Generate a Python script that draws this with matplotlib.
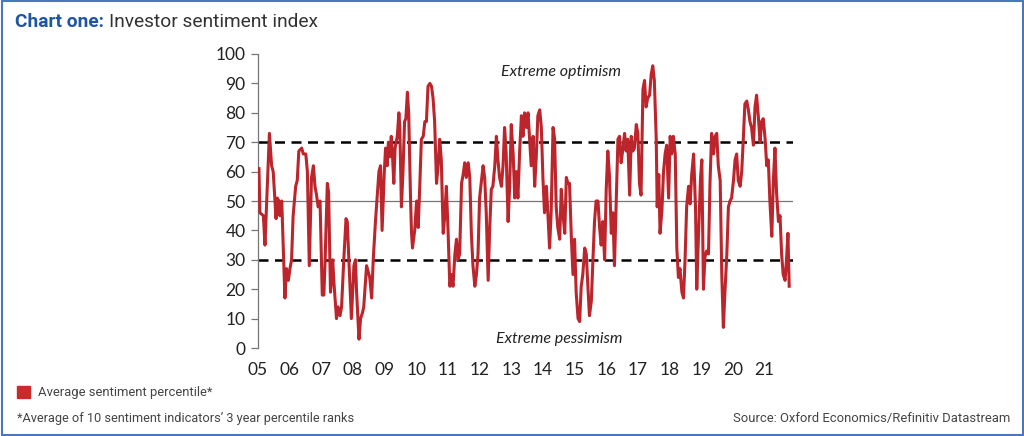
import matplotlib
matplotlib.use("Agg")
import matplotlib.pyplot as plt
from matplotlib.patches import Rectangle

# values (year fraction, percentile)
years = [
    2005.03, 2005.06, 2005.17, 2005.22, 2005.36, 2005.43, 2005.48, 2005.57, 2005.61, 2005.66,
    2005.69, 2005.75, 2005.78, 2005.85, 2005.90, 2005.96, 2006.01, 2006.06, 2006.11, 2006.19,
    2006.24, 2006.29, 2006.38, 2006.43, 2006.51, 2006.56, 2006.62, 2006.69, 2006.75, 2006.80,
    2006.85, 2006.90, 2006.96, 2007.03, 2007.08, 2007.12, 2007.19, 2007.23, 2007.29, 2007.36,
    2007.40, 2007.48, 2007.53, 2007.59, 2007.64, 2007.71, 2007.78, 2007.82, 2007.87, 2007.92,
    2007.95, 2008.03, 2008.08, 2008.11, 2008.19, 2008.24, 2008.30, 2008.34, 2008.43, 2008.48,
    2008.53, 2008.59, 2008.64, 2008.71, 2008.77, 2008.82, 2008.87, 2008.92, 2008.99, 2009.03,
    2009.08, 2009.12, 2009.16, 2009.21, 2009.25, 2009.29, 2009.33, 2009.40, 2009.45, 2009.48,
    2009.53, 2009.58, 2009.63, 2009.67, 2009.72, 2009.76, 2009.82,
    2009.85, 2009.88, 2009.95, 2010.01, 2010.06, 2010.11, 2010.16, 2010.22, 2010.27, 2010.32,
    2010.37, 2010.43, 2010.48, 2010.53, 2010.58, 2010.64, 2010.69, 2010.74, 2010.79, 2010.85,
    2010.90, 2010.95, 2011.00, 2011.06, 2011.11, 2011.16, 2011.22, 2011.27, 2011.32, 2011.37,
    2011.43, 2011.48, 2011.53, 2011.58, 2011.64, 2011.69, 2011.74, 2011.79, 2011.85, 2011.90,
    2011.95, 2012.00, 2012.06, 2012.11, 2012.16, 2012.21, 2012.27, 2012.32, 2012.37, 2012.42,
    2012.48, 2012.53, 2012.58, 2012.63, 2012.69, 2012.74, 2012.79, 2012.84, 2012.90, 2012.95,
    2013.00, 2013.06, 2013.11, 2013.16, 2013.21, 2013.27, 2013.32, 2013.37, 2013.42, 2013.48,
    2013.53, 2013.58, 2013.63, 2013.69, 2013.74, 2013.79, 2013.84, 2013.90, 2013.95, 2014.00,
    2014.05, 2014.11, 2014.16, 2014.21, 2014.26, 2014.32, 2014.37, 2014.42, 2014.47, 2014.53,
    2014.58, 2014.63, 2014.69, 2014.74, 2014.79, 2014.84, 2014.90, 2014.95, 2015.00, 2015.05,
    2015.11, 2015.16, 2015.21, 2015.26, 2015.32, 2015.37, 2015.42, 2015.47, 2015.53, 2015.58,
    2015.63, 2015.68, 2015.74, 2015.79, 2015.84, 2015.89, 2015.95, 2016.00, 2016.05, 2016.10,
    2016.16, 2016.21, 2016.26, 2016.32,
    2016.37, 2016.42, 2016.47, 2016.53, 2016.58, 2016.63, 2016.68, 2016.74, 2016.79, 2016.84,
    2016.89, 2016.95, 2017.00, 2017.05, 2017.10, 2017.16, 2017.21, 2017.26, 2017.31, 2017.37,
    2017.42, 2017.47, 2017.52, 2017.58, 2017.61, 2017.66, 2017.70, 2017.76, 2017.81, 2017.86,
    2017.91, 2017.97, 2018.02, 2018.07, 2018.12, 2018.18, 2018.23, 2018.28, 2018.33, 2018.39,
    2018.44, 2018.49, 2018.54, 2018.60, 2018.65, 2018.70, 2018.76, 2018.82, 2018.86, 2018.91,
    2018.98, 2019.02, 2019.07, 2019.12, 2019.17, 2019.23, 2019.28, 2019.33, 2019.39, 2019.44,
    2019.49, 2019.54, 2019.60, 2019.65, 2019.70, 2019.75, 2019.81, 2019.86, 2019.91, 2019.96,
    2020.02, 2020.07, 2020.12, 2020.17, 2020.23, 2020.28, 2020.33, 2020.38, 2020.44, 2020.49,
    2020.54, 2020.59, 2020.65, 2020.70, 2020.75, 2020.81, 2020.86, 2020.91, 2020.96, 2021.02,
    2021.07, 2021.12, 2021.17, 2021.23, 2021.28, 2021.33, 2021.38, 2021.44, 2021.49, 2021.54,
    2021.59, 2021.65, 2021.70, 2021.74, 2021.78,
]
sentiment = [
    61, 46, 45, 35, 73, 62, 60, 44, 51, 50,
    45, 50, 40, 17, 27, 23, 27, 30, 45, 55,
    57, 67, 68, 66, 66, 60, 28, 58, 62, 55,
    52, 48, 50, 18, 18, 30, 56, 53, 19, 30,
    22, 10, 14, 11, 14, 30, 44, 43, 30, 18,
    10, 28, 30, 20, 3, 10, 12, 14, 28, 26,
    24, 17, 30, 43, 52, 60, 62, 40, 60, 68,
    62, 70, 65, 72, 65, 56, 68, 72, 80, 75,
    48, 60, 77, 78, 87, 80, 50,
    39, 34, 40, 50, 41, 55, 71, 72, 77, 77,
    89, 90, 89, 85, 77, 56, 62, 71, 64, 39,
    45, 55, 41, 21, 25, 21, 32, 37, 30, 32,
    56, 59, 63, 58, 63, 58, 39, 28, 21, 25,
    32, 51, 57, 62, 58, 46, 23, 41, 54, 55,
    62, 72, 64, 58, 55, 62, 75, 66, 43, 55,
    76, 66, 51, 60, 51, 68, 79, 72, 80, 75,
    80, 71, 62, 72, 55, 65, 79, 81, 75, 58,
    46, 55, 45, 34, 46, 75, 71, 48, 41, 37,
    54, 46, 39, 58, 56, 56, 37, 25, 37, 19,
    10, 9, 21, 25, 34, 32, 21, 11, 16, 30,
    43, 50, 50, 41, 35, 43, 30, 54, 67, 59,
    39, 46, 28, 51,
    71, 72, 63, 68, 73, 67, 71, 52, 72, 67,
    68, 76, 73, 56, 52, 88, 91, 82, 85, 86,
    93, 96, 91, 71, 48, 59, 39, 47, 60, 66,
    69, 51, 72, 66, 72, 66, 34, 24, 27, 19,
    17, 30, 48, 55, 49, 59, 66, 48, 20, 37,
    58, 64, 20, 31, 33, 32, 57, 73, 66, 72,
    73, 62, 57, 25, 7, 19, 32, 48, 50, 51,
    57, 64, 66, 57, 55, 60, 71, 83, 84, 81,
    77, 75, 69, 82, 86, 78, 70, 77, 78, 71,
    62, 64, 50, 38, 57, 68, 53, 43, 45, 32,
    25, 23, 31, 39, 21,
]
tick_years = list(range(2005, 2022))
tick_labels = ["%02d" % (y % 100) for y in tick_years]
y_ticks = list(range(0, 101, 10))

line_red = "#bb252b"
W, H = 1024, 436
fig = plt.figure(figsize=(W / 100, H / 100), dpi=100)

ax = fig.add_axes([258 / W, 1 - 348 / H, (793 - 258) / W, (348 - 54) / H])
ax.plot(years, sentiment, color=line_red, lw=2.2, solid_joinstyle="round", zorder=3)
ax.axhline(70, color="black", lw=1.8, ls=(0, (4, 2.6)), zorder=2)
ax.axhline(30, color="black", lw=1.8, ls=(0, (4, 2.6)), zorder=2)
ax.axhline(50, color="#777777", lw=0.9, zorder=1)

ax.set_xlim(2005, 2021.9)
ax.set_ylim(0, 100)
ax.set_yticks(y_ticks)
ax.set_xticks(tick_years)
ax.set_xticklabels(tick_labels)
for s in ["top", "right", "bottom"]:
    ax.spines[s].set_visible(False)
ax.spines["left"].set_color("#777777")
ax.spines["left"].set_linewidth(0.9)
ax.tick_params(axis="y", length=5, width=0.9, color="#777777", labelsize=12.5,
               labelcolor="#222222", pad=4)
ax.tick_params(axis="x", length=0, labelsize=12.5, labelcolor="#222222", pad=10)
for lab in ax.get_xticklabels() + ax.get_yticklabels():
    lab.set_family("Lato")

ax.text(2014.56, 94, "Extreme optimism", style="italic", family="Lato",
        fontsize=11.5, ha="center", va="center", color="#222222")
ax.text(2014.53, 3, "Extreme pessimism", style="italic", family="Lato",
        fontsize=11.5, ha="center", va="center", color="#222222")

# title
t1 = fig.text(15 / W, 1 - 22 / H, "Chart one:", fontsize=13.8, fontweight="bold",
              color="#1f56a3", family="Roboto", va="center")
fig.canvas.draw()
bb = t1.get_window_extent()
fig.text((bb.x1 + 5) / W, 1 - 22 / H, "Investor sentiment index", fontsize=13.8,
         color="#333333", family="Roboto", va="center")

# legend and notes
fig.patches.append(Rectangle((17 / W, 1 - 398 / H), 13 / W, 12 / H,
                             transform=fig.transFigure, color="#c92a2a"))
fig.text(38 / W, 1 - 392 / H, "Average sentiment percentile*", fontsize=9.4,
         color="#444444", family="Roboto", va="center")
fig.text(17 / W, 1 - 418 / H, "*Average of 10 sentiment indicators\u2019 3 year percentile ranks",
         fontsize=9.2, color="#444444", family="Roboto", va="center")
fig.text(1010 / W, 1 - 418 / H, "Source: Oxford Economics/Refinitiv Datastream",
         fontsize=9.4, color="#444444", family="Roboto", va="center", ha="right")

# outer frame
fig.patches.append(Rectangle((1.5 / W, 1.5 / H), (W - 3) / W, (H - 3) / H,
                             transform=fig.transFigure, fill=False,
                             edgecolor="#4a78bd", lw=1.5))

fig.savefig("out.png", dpi=100)
